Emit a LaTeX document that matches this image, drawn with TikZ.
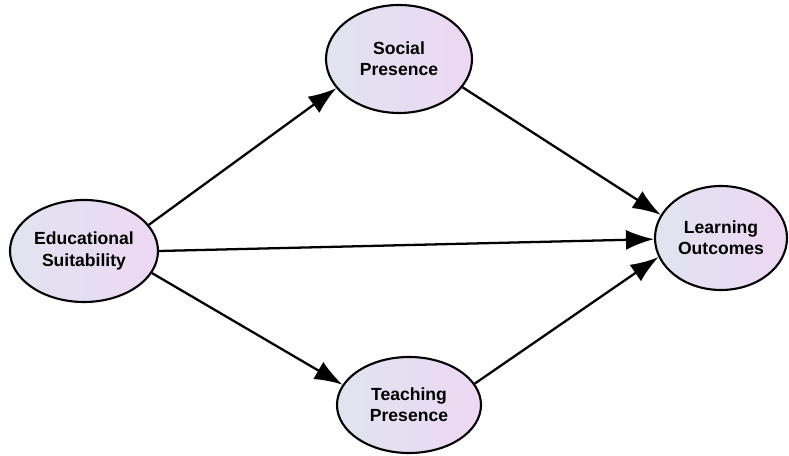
\documentclass[tikz,border=0pt]{standalone}
\usepackage{fontspec}
\setmainfont{Liberation Sans}
\usepackage{tikz}
\usetikzlibrary{shapes,arrows.meta,positioning,calc}
\definecolor{lvleft}{RGB}{224,228,241}
\definecolor{lvright}{RGB}{237,215,242}

\begin{document}
\begin{tikzpicture}[
  lv/.style={draw, ellipse, line width=1.2pt, align=center,
             font=\fontsize{10}{12}\selectfont\bfseries,
             left color=lvleft, right color=lvright, inner sep=0pt},
  rel/.style={-{Latex[length=0.56cm, width=0.40cm]}, line width=1.3pt}
]

% Frame
\useasboundingbox (0,0) rectangle (15.78,9.12);

% ======= Constructs =======
\node[lv, minimum width=2.96cm, minimum height=2.04cm] (es) at (1.68,4.10) {Educational\\Suitability};
\node[lv, minimum width=2.92cm, minimum height=2.16cm] (sp) at (7.98,7.94) {Social\\Presence};
\node[lv, minimum width=2.88cm, minimum height=1.92cm] (tp) at (8.18,1.02) {Teaching\\Presence};
\node[lv, minimum width=2.64cm, minimum height=2.08cm] (lo) at (14.42,4.36) {Learning\\Outcomes};

% ======= Paths =======
\draw[rel] (es.22)  -- (sp.205);
\draw[rel] (es.0)   -- (lo.181);
\draw[rel] (es.342) -- (tp.163);
\draw[rel] (sp.336) -- (lo.159);
\draw[rel] (tp.18)  -- (lo.197);

\end{tikzpicture}
\end{document}
